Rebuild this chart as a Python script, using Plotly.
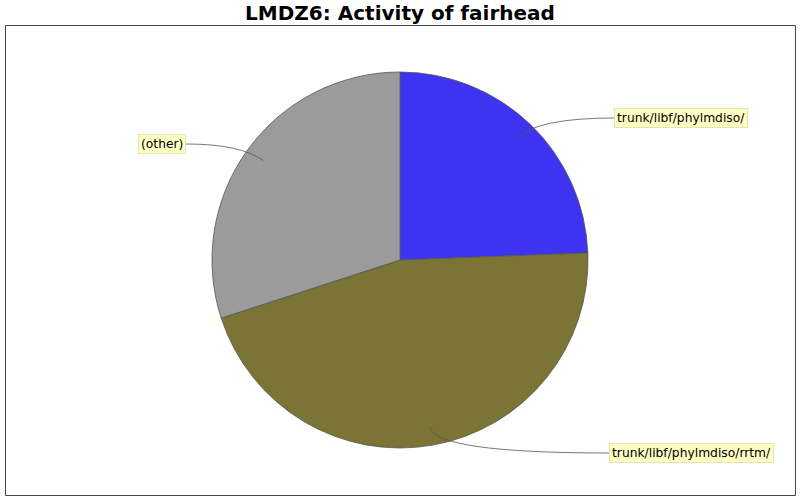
import math
import plotly.graph_objs as go

# --- DATA ---
LABELS = ['trunk/libf/phylmdiso/', 'trunk/libf/phylmdiso/rrtm/', '(other)']
VALUES = [24.4, 45.6, 30.0]
COLORS = ['#3d33f0', '#7b7434', '#9b9b9b']
TITLE = 'LMDZ6: Activity of fairhead'

# --- LAYOUT (pixels, 800x500) ---
W, H = 800, 500
CX, CY, R = 400, 260, 188
# label box anchor (x, y, side) per slice
LABEL_POS = [(614, 118, 'left'), (609, 453, 'left'), (186, 144, 'right')]


def px(x, y):
    return x / W, 1 - y / H


fig = go.Figure()
fig.add_trace(go.Pie(
    labels=LABELS, values=VALUES, sort=False, direction='clockwise', rotation=0,
    marker=dict(colors=COLORS, line=dict(color='#555555', width=0.8)),
    textinfo='none', hoverinfo='label+percent', showlegend=False,
    domain=dict(x=[(CX - R) / W, (CX + R) / W], y=[(H - CY - R) / H, (H - CY + R) / H]),
))

# leader lines + label boxes, computed from slice mid angles
shapes = []
annotations = []
total = sum(VALUES)
start = 0.0
for lab, val, (lx, ly, side) in zip(LABELS, VALUES, LABEL_POS):
    mid = (start + val / 2) / total * 2 * math.pi
    start += val
    dx, dy = math.sin(mid), -math.cos(mid)
    x0, y0 = CX + 0.9 * R * dx, CY + 0.9 * R * dy
    t = (ly - y0) / dy if abs(dy) > 1e-6 else 0
    cx, cy = x0 + t * dx, ly
    p0, c, p2 = px(x0, y0), px(cx, cy), px(lx, ly)
    shapes.append(dict(
        type='path', xref='paper', yref='paper',
        path=f'M {p0[0]},{p0[1]} Q {c[0]},{c[1]} {p2[0]},{p2[1]}',
        line=dict(color='#555555', width=0.8),
    ))
    annotations.append(dict(
        x=p2[0], y=p2[1], xref='paper', yref='paper', text=lab, showarrow=False,
        xanchor=side, yanchor='middle', font=dict(family='DejaVu Sans', size=12.3, color='black'),
        bgcolor='#ffffc4', bordercolor='#e4e4b0', borderwidth=1, borderpad=2,
    ))

# outer frame
shapes.append(dict(type='rect', xref='paper', yref='paper',
                   x0=5.5 / W, x1=795.5 / W, y0=1 - 495.5 / H, y1=1 - 25.5 / H,
                   line=dict(color='#444444', width=1)))

fig.update_layout(
    width=W, height=H, margin=dict(l=0, r=0, t=0, b=0),
    paper_bgcolor='white', plot_bgcolor='white',
    title=dict(text=f'<b>{TITLE}</b>', x=0.5, xanchor='center', y=1 - 12.5 / H, yanchor='middle',
               font=dict(family='DejaVu Sans', size=20, color='black')),
    shapes=shapes, annotations=annotations,
)

# drop the default 8px body margin so the figure sits at the page origin
fig.write_html('out.html', config={'displayModeBar': False},
               post_script="document.body.style.margin='0';")
